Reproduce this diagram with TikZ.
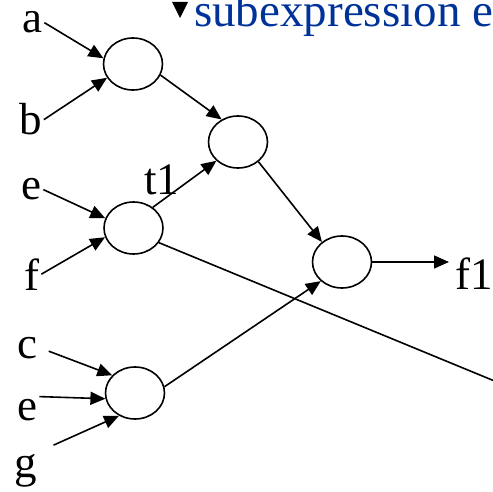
\documentclass[tikz,border=0pt]{standalone}
\usepackage{fontspec}
\setmainfont{Liberation Serif}
\usepackage{xcolor}
\usetikzlibrary{arrows.meta,shapes.geometric}
\definecolor{slideblue}{RGB}{0,51,153}
\tikzset{
  opnode/.style={ellipse,draw,line width=1.6pt,minimum width=59pt,minimum height=52pt,inner sep=0pt},
  var/.style={anchor=base west,inner sep=2pt,font=\fontsize{45}{48}\selectfont},
  arr/.style={line width=1.6pt,-{Triangle[length=15pt,width=13pt]}},
  wire/.style={line width=1.6pt}
}
\begin{document}
\begin{tikzpicture}[x=1pt,y=-1pt]
\useasboundingbox (0,0) rectangle (493,492);
\clip (0,0) rectangle (493,492);
% heading
\fill (172,2) -- (188,2) -- (180,18) -- cycle;
\node[anchor=base west,inner sep=0pt,text=slideblue,font=\fontsize{47}{50}\selectfont] (head) at (194,27) {subexpression e};
% operators
\node[opnode] (n1) at (133,64) {};
\node[opnode] (n2) at (238,142) {};
\node[opnode] (n3) at (133.5,228) {};
\node[opnode] (n4) at (342,262) {};
\node[opnode] (n5) at (135,393) {};
% inputs and outputs
\node[var] (la) at (20,33) {a};
\node[var] (lb) at (17,135) {b};
\node[var] (le) at (19,200) {e};
\node[var] (lf) at (22,290) {f};
\node[var] (lc) at (15,358) {c};
\node[var] (lee) at (15,420) {e};
\node[var] (lg) at (12,477) {g};
\node[var] (lt) at (142,195) {t1};
\node[var] (lfo) at (453,289) {f1};
\coordinate (out) at (560,408);
% edges
\draw[arr] (la.east) -- (n1.169);
\draw[arr] (lb.east) -- (n1.208);
\draw[arr] (le.east) -- (n3.161);
\draw[arr] (lf.east) -- (n3.198);
\draw[arr,shorten <=10pt] (lc.east) -- (n5.142);
\draw[arr] (lee.north east) -- (n5.191);
\draw[arr,shorten <=16pt] (lg.north east) -- (n5.235);
\draw[arr] (n1.338) -- (n2.126);
\draw[arr] (n3.47) -- (n2.221);
\draw[arr] (n2.316) -- (n4.135);
\draw[arr] (n5.12) -- (n4.222);
\draw[arr,shorten >=4pt] (n4.east) -- (n4.east -| lfo.west);
\draw[wire] (n3.330) -- (out);
\end{tikzpicture}
\end{document}
